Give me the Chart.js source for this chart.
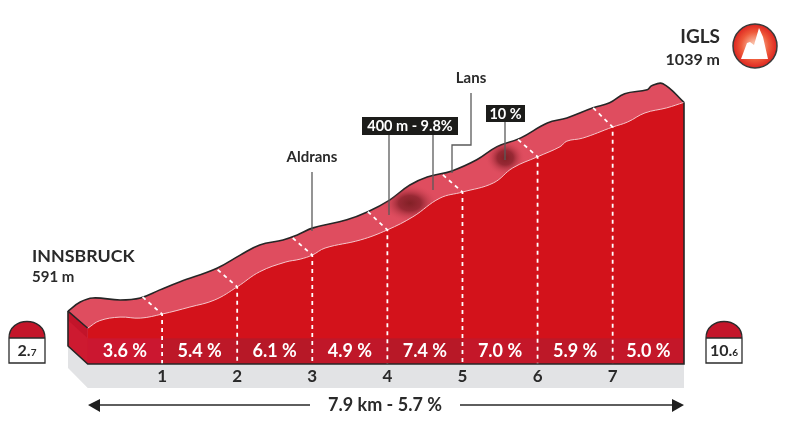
<!DOCTYPE html>
<html><head><meta charset="utf-8">
<style>html,body{margin:0;padding:0;background:#fff}canvas{display:block}</style>
<script src="https://cdn.jsdelivr.net/npm/chart.js@4/dist/chart.umd.min.js"></script>
</head><body>
<canvas id="c" width="790" height="429"></canvas>
<script>
// Profile along the road: km, metres
const frontKm=[0.01,0.17,0.44,0.71,1.00,1.37,1.70,2.00,2.30,2.64,2.84,3.00,3.17,3.64,4.00,4.34,4.70,5.00,5.41,5.67,6.00,6.30,6.39,6.60,7.00,7.20,7.43,7.72,7.95];
const frontElev=[591,606,613,611,619,633,647,673,703,722,728,736,750,766,786,812,849,861,879,909,931,951,962,968,990,1000,1018,1028,1039];
// Upper edge of the raised band
const backKm=[-0.253,-0.09,0.08,0.44,0.71,0.97,1.24,1.73,2.04,2.30,2.61,2.80,3.01,3.46,3.74,4.03,4.30,4.53,4.86,5.19,5.46,5.77,6.13,6.39,6.74,6.96,7.16,7.46,7.52,7.67,7.95];
const backElev=[625,643,651,647,651,667,683,710,736,756,766,776,790,806,822,845,875,891,903,925,951,968,998,1008,1028,1038,1056,1064,1072,1076,1039];
// Kilometre marks
const markKm=[1,2,3,4,5,6,7];
const markFrontElev=[619,673,736,786,861,931,990];
const markTopKm=[0.74,1.74,2.74,3.74,4.74,5.74,6.74];
const markTopElev=[653,707,770,822,895,965,1028];
// Gradient per kilometre
const gradeEdges=[0.01,1,2,3,4,5,6,7,7.95];
const gradeLabels=["3.6 %","5.4 %","6.1 %","4.9 %","7.4 %","7.0 %","5.9 %","5.0 %"];
const gradeShades=["#cb1730","#bd1828","#b71827","#c01729","#b81827","#c41729","#bd1828","#c41729"];
const tickLabels=["1","2","3","4","5","6","7"];
const baseElev=520, topElev=1115, bandElev=571;

const markPts=[];
markKm.forEach((k,i)=>{markPts.push({x:markTopKm[i],y:markTopElev[i]},{x:k,y:markFrontElev[i]},{x:k,y:baseElev},{x:NaN,y:NaN});});

const FONT='Lato, "Noto Sans", sans-serif', INK='#2a2a2a';
function text(ctx,s,x,y,size,align,color,weight){ctx.font=(weight||'bold')+' '+size+'px '+FONT;ctx.textAlign=align||'left';ctx.textBaseline='middle';ctx.fillStyle=color||INK;ctx.fillText(s,x,y);}
function poly(ctx,pts){ctx.beginPath();pts.forEach((p,i)=>i?ctx.lineTo(p[0],p[1]):ctx.moveTo(p[0],p[1]));ctx.closePath();}
function milestone(ctx,x,big,small){
  const w=36,mid=338,bot=363;
  ctx.beginPath();ctx.moveTo(x,mid);ctx.bezierCurveTo(x,316,x+w,316,x+w,mid);ctx.closePath();ctx.fillStyle='#c4162a';ctx.fill();
  ctx.fillStyle='#fff';ctx.fillRect(x,mid,w,bot-mid);
  ctx.strokeStyle='#2b2b2b';ctx.lineWidth=1.3;
  ctx.beginPath();ctx.moveTo(x,mid);ctx.bezierCurveTo(x,316,x+w,316,x+w,mid);ctx.lineTo(x+w,bot);ctx.lineTo(x,bot);ctx.closePath();ctx.moveTo(x,mid);ctx.lineTo(x+w,mid);ctx.stroke();
  ctx.font='bold 16px '+FONT;const a=ctx.measureText(big).width;ctx.font='bold 10px '+FONT;const b=ctx.measureText(small).width;
  const sx=x+w/2-(a+b)/2;text(ctx,big,sx,350.5,16,'left');text(ctx,small,sx+a,352.5,10,'left');
}
function leader(ctx,pts){ctx.strokeStyle='#5a5a5a';ctx.lineWidth=1.3;ctx.beginPath();pts.forEach((p,i)=>i?ctx.lineTo(p[0],p[1]):ctx.moveTo(p[0],p[1]));ctx.stroke();}
function callout(ctx,s,x0,x1,y0,y1,size){ctx.fillStyle='#1c1c1a';ctx.fillRect(x0,y0,x1-x0,y1-y0);text(ctx,s,(x0+x1)/2,(y0+y1)/2+.5,size,'center','#fff');}

const art={id:'art',
 afterDatasetDraw(ch,args){
  const c=ch.ctx,X=ch.scales.x,Y=ch.scales.y,x=v=>X.getPixelForValue(v),y=v=>Y.getPixelForValue(v);
  if(args.index===2){
   // steep sections, kept inside the raised band
   c.save();c.beginPath();backKm.forEach((k,i)=>{i?c.lineTo(x(k),y(backElev[i])):c.moveTo(x(k),y(backElev[i]));});c.lineTo(x(7.95),y(baseElev));c.lineTo(x(-0.253),y(baseElev));c.closePath();c.clip();
   [[4.30,839,28,19],[5.57,929,20,18]].forEach(h=>{
     const px=x(h[0]),py=y(h[1]);c.save();c.translate(px,py);c.scale(h[2],h[3]);
     const g=c.createRadialGradient(0,0,0,0,0,1);g.addColorStop(0,'rgba(125,30,35,.95)');g.addColorStop(.4,'rgba(135,32,42,.8)');g.addColorStop(1,'rgba(223,77,95,0)');
     c.fillStyle=g;c.beginPath();c.arc(0,0,1,0,Math.PI*2);c.fill();c.restore();});
   c.restore();
   const l=x(backKm[0]),f=x(frontKm[0]),t0=y(backElev[0]),t1=y(frontElev[0]),b=y(baseElev),e0=y(bandElev),r=x(7.95);
   // ground shadow
   c.fillStyle='#e2e3e5';poly(c,[[l,346],[f,b],[r,b],[r,388],[f,388],[l,368]]);c.fill();
   // left face
   c.fillStyle='#c2142a';poly(c,[[l,t0],[f,t1],[f,b],[l,346]]);c.fill();
   c.fillStyle='#cd1a30';poly(c,[[l,e0-18],[f,e0],[f,b],[l,346]]);c.fill();
   c.strokeStyle='#262626';c.lineWidth=1.5;c.beginPath();c.moveTo(l,t0);c.lineTo(f,t1);c.stroke();
  }
  if(args.index===1){
   const b=y(baseElev),t=y(bandElev);
   gradeLabels.forEach((s,i)=>{c.fillStyle=gradeShades[i];c.fillRect(x(gradeEdges[i]),t,x(gradeEdges[i+1])-x(gradeEdges[i]),b-t);});
  }
 },
 afterDatasetsDraw(ch){
  const c=ch.ctx,X=ch.scales.x,Y=ch.scales.y,x=v=>X.getPixelForValue(v),y=v=>Y.getPixelForValue(v);
  const b=y(baseElev),l=x(backKm[0]),f=x(frontKm[0]),r=x(7.95);
  // outline
  c.strokeStyle='#262626';c.lineWidth=1.6;c.beginPath();c.moveTo(l,y(backElev[0]));c.lineTo(l,346);c.lineTo(f,b);c.lineTo(r,b);c.lineTo(r,y(1039));c.stroke();
  // gradient labels
  gradeLabels.forEach((s,i)=>{text(c,s,(x(gradeEdges[i])+x(gradeEdges[i+1]))/2,351,18,'center','#fff');});
  // place names and callouts
  text(c,'INNSBRUCK',32,256,17.8,'left');text(c,'591 m',32,277,15,'left');
  text(c,'IGLS',720,37,19,'right');text(c,'1039 m',720,60,16,'right');
  text(c,'Aldrans',312,157,15,'center');leader(c,[[312,172],[312,y(784)]]);
  text(c,'Lans',471,78,15,'center');leader(c,[[471,93],[471,145],[452,145],[452,y(899)]]);
  leader(c,[[389,135],[389,215]]);leader(c,[[433,135],[433,190]]);leader(c,[[505,122],[505,160]]);
  callout(c,'400 m - 9.8%',362,458,117,135,14.5);callout(c,'10 %',486,525,105,122,14.5);
  // milestones
  milestone(c,9,'2.','7');milestone(c,706,'10.','6');
  // summit badge
  const cx=755,cy=46,R=22;
  const g=c.createRadialGradient(cx,cy,4,cx,cy,R);g.addColorStop(0,'#f9b9a0');g.addColorStop(.55,'#ee5a3a');g.addColorStop(1,'#dd2420');
  c.fillStyle=g;c.beginPath();c.arc(cx,cy,R,0,Math.PI*2);c.fill();
  c.strokeStyle='#3a3a3a';c.lineWidth=1.5;c.stroke();
  c.fillStyle='#fff';poly(c,[[741,59],[747,43],[750,42],[754,45],[759,28],[763,37],[768,59]]);c.fill();
  // distance arrow
  c.strokeStyle='#2a2a2a';c.lineWidth=1.6;c.beginPath();c.moveTo(96,405);c.lineTo(310,405);c.moveTo(460,405);c.lineTo(676,405);c.stroke();
  c.fillStyle='#1f1f1f';poly(c,[[88,405],[100,399],[100,412]]);c.fill();poly(c,[[684,405],[672,399],[672,412]]);c.fill();
  text(c,'7.9 km - 5.7 %',385,405,18,'center');
 }};

new Chart(document.getElementById('c'),{
 type:'line',
 data:{datasets:[
  {label:'km marks',data:markPts,borderColor:'#fff',borderWidth:1.8,borderDash:[4,4],pointRadius:0,fill:false,spanGaps:false,clip:false},
  {label:'profile',data:frontKm.map((k,i)=>({x:k,y:frontElev[i]})),borderColor:'#f6c6cb',borderWidth:1,backgroundColor:'#d3121b',pointRadius:0,fill:'start',tension:.4,clip:false},
  {label:'upper edge',data:backKm.map((k,i)=>({x:k,y:backElev[i]})),borderColor:'#262626',borderWidth:1.6,backgroundColor:'#df4d5f',pointRadius:0,fill:'start',tension:.4,clip:false}
 ]},
 options:{responsive:false,animation:false,devicePixelRatio:1,
  layout:{padding:{left:68,right:106,top:64,bottom:0}},
  plugins:{legend:{display:false},tooltip:{enabled:false}},
  scales:{
   x:{type:'linear',min:-0.253,max:7.95,grid:{display:false,drawTicks:false,tickLength:0},border:{display:false},
      afterBuildTicks(a){a.ticks=tickLabels.map(t=>({value:+t}));},
      afterFit(a){a.height=65;},
      ticks:{z:1,autoSkip:false,maxRotation:0,padding:2,color:INK,font:{family:FONT,size:17,weight:'bold'},callback:v=>String(v)}},
   y:{display:false,min:baseElev,max:topElev}
  }},
 plugins:[art]
});
</script>
</body></html>
